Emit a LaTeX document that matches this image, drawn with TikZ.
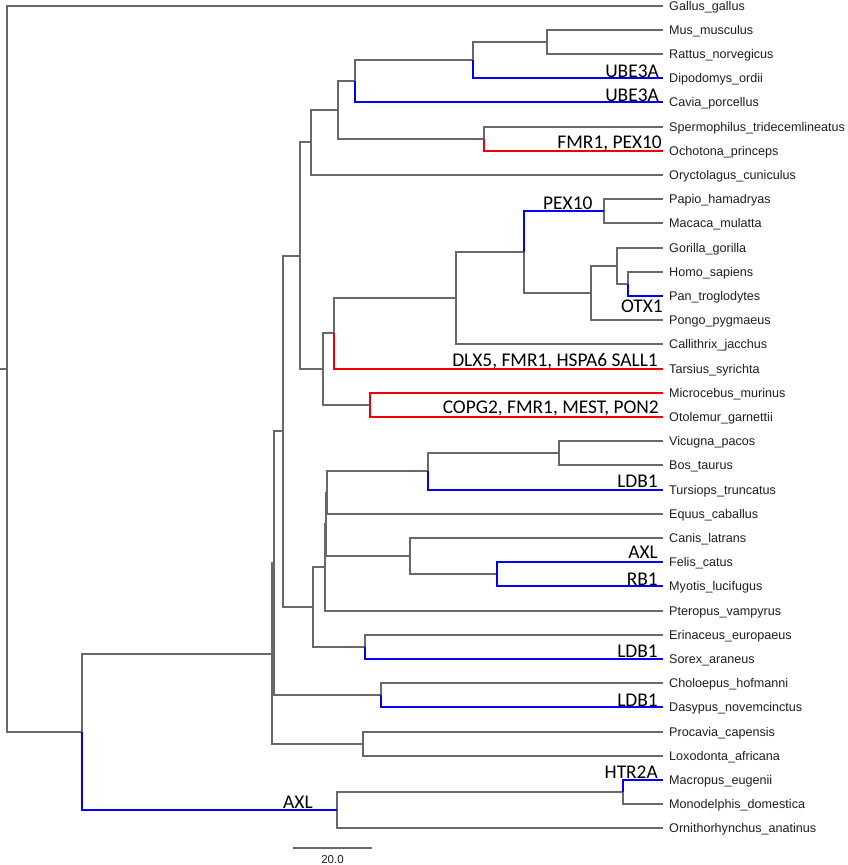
\documentclass[tikz,border=0pt]{standalone}
\usepackage{fontspec}
\setmainfont{Liberation Sans}
\newfontfamily\genefont{Carlito}
\definecolor{treegray}{RGB}{104,104,104}
\definecolor{tipblue}{RGB}{0,0,255}
\definecolor{tipred}{RGB}{240,0,0}
\definecolor{txt}{RGB}{30,30,30}
\begin{document}
\begin{tikzpicture}[x=1pt,y=-1pt,
  br/.style={draw=treegray,line width=2pt},
  bb/.style={draw=tipblue,line width=2pt},
  rb/.style={draw=tipred,line width=2pt},
  tip/.style={anchor=base west,inner sep=0pt,font=\fontsize{12.6}{14}\selectfont,text=txt},
  gene/.style={inner sep=0pt,font=\genefont\fontsize{19.4}{22}\selectfont,text=black}]
\useasboundingbox (0,0) rectangle (848,865);

% tips and labels
\foreach \nm/\lab [count=\i from 0] in {
 gal/Gallus\_gallus, mus/Mus\_musculus, rat/Rattus\_norvegicus, dip/Dipodomys\_ordii,
 cav/Cavia\_porcellus, spe/Spermophilus\_tridecemlineatus, och/Ochotona\_princeps,
 ory/Oryctolagus\_cuniculus, pap/Papio\_hamadryas, mac/Macaca\_mulatta,
 gor/Gorilla\_gorilla, hom/Homo\_sapiens, pan/Pan\_troglodytes, pon/Pongo\_pygmaeus,
 cal/Callithrix\_jacchus, tar/Tarsius\_syrichta, mic/Microcebus\_murinus,
 oto/Otolemur\_garnettii, vic/Vicugna\_pacos, bos/Bos\_taurus, tur/Tursiops\_truncatus,
 equ/Equus\_caballus, can/Canis\_latrans, fel/Felis\_catus, myo/Myotis\_lucifugus,
 pte/Pteropus\_vampyrus, eri/Erinaceus\_europaeus, sor/Sorex\_araneus,
 cho/Choloepus\_hofmanni, das/Dasypus\_novemcinctus, pro/Procavia\_capensis,
 lox/Loxodonta\_africana, mcp/Macropus\_eugenii, mon/Monodelphis\_domestica,
 orn/Ornithorhynchus\_anatinus}{
  \coordinate (\nm) at (663, 5.5+24.2*\i);
  \node[tip] (L\nm) at (669, 10+24.2*\i) {\lab};
}

% internal nodes
\coordinate (mr)   at (547,41.8);
\coordinate (mrd)  at (473,59.95);
\coordinate (rod)  at (355,81.1);
\coordinate (so)   at (484,138.6);
\coordinate (rs)   at (338,109.9);
\coordinate (gl)   at (311,142.4);
\coordinate (pm)   at (604,211.2);
\coordinate (hp)   at (628,283.8);
\coordinate (ghp)  at (617,265.7);
\coordinate (hmn)  at (591,292.9);
\coordinate (cat)  at (524,252.0);
\coordinate (ant)  at (456,298.2);
\coordinate (hap)  at (334,333.3);
\coordinate (str)  at (370,404.8);
\coordinate (pri)  at (323,369.1);
\coordinate (eua)  at (300,255.7);
\coordinate (vb)   at (559,453.2);
\coordinate (cet)  at (428,471.4);
\coordinate (la1)  at (326.5,492.5);
\coordinate (fm)   at (497,574.2);
\coordinate (car)  at (410,556.0);
\coordinate (la2)  at (325.5,524.3);
\coordinate (la3)  at (324.5,567.4);
\coordinate (eul)  at (365,646.8);
\coordinate (lau)  at (313,607.1);
\coordinate (bor)  at (283,431.4);
\coordinate (xen)  at (381,695.2);
\coordinate (eu1)  at (273.5,563.3);
\coordinate (afr)  at (363,743.6);
\coordinate (eut)  at (272,653.5);
\coordinate (mar)  at (623,792.0);
\coordinate (mm)   at (337,810.2);
\coordinate (mam)  at (82,731.8);
\coordinate (root) at (7,368.7);
\coordinate (stem) at (0,368.7);

% gray branches
\draw[br] (stem) -- (root);
\draw[br] (root) |- (gal);
\draw[br] (root) |- (mam);
\draw[br] (mam) |- (eut);
\draw[br] (eut) |- (eu1);
\draw[br] (eut) |- (afr);
\draw[br] (afr) |- (pro);
\draw[br] (afr) |- (lox);
\draw[br] (eu1) |- (bor);
\draw[br] (eu1) |- (xen);
\draw[br] (xen) |- (cho);
\draw[br] (bor) |- (eua);
\draw[br] (bor) |- (lau);
\draw[br] (eua) |- (gl);
\draw[br] (eua) |- (pri);
\draw[br] (gl) |- (rs);
\draw[br] (gl) |- (ory);
\draw[br] (rs) |- (rod);
\draw[br] (rs) |- (so);
\draw[br] (so) |- (spe);
\draw[br] (rod) |- (mrd);
\draw[br] (mrd) |- (mr);
\draw[br] (mr) |- (mus);
\draw[br] (mr) |- (rat);
\draw[br] (pri) |- (hap);
\draw[br] (pri) |- (str);
\draw[br] (hap) |- (ant);
\draw[br] (ant) |- (cat);
\draw[br] (ant) |- (cal);
\draw[br] (cat) |- (hmn);
\draw[br] (pm) |- (pap);
\draw[br] (pm) |- (mac);
\draw[br] (hmn) |- (ghp);
\draw[br] (hmn) |- (pon);
\draw[br] (ghp) |- (gor);
\draw[br] (ghp) |- (hp);
\draw[br] (hp) |- (hom);
\draw[br] (lau) |- (la3);
\draw[br] (lau) |- (eul);
\draw[br] (eul) |- (eri);
\draw[br] (la3) |- (la2);
\draw[br] (la3) |- (pte);
\draw[br] (la2) |- (la1);
\draw[br] (la2) |- (car);
\draw[br] (la1) |- (cet);
\draw[br] (la1) |- (equ);
\draw[br] (cet) |- (vb);
\draw[br] (vb) |- (vic);
\draw[br] (vb) |- (bos);
\draw[br] (car) |- (can);
\draw[br] (car) |- (fm);
\draw[br] (mm) |- (mar);
\draw[br] (mm) |- (orn);
\draw[br] (mar) |- (mon);

% coloured branches
\draw[bb] (mam) |- (mm);
\draw[bb] (mar) |- (mcp);
\draw[bb] (mrd) |- (dip);
\draw[bb] (rod) |- (cav);
\draw[rb] (so) |- (och);
\draw[bb] (cat) |- (pm);
\draw[bb] (hp) |- (pan);
\draw[rb] (hap) |- (tar);
\draw[rb] (str) |- (mic);
\draw[rb] (str) |- (oto);
\draw[bb] (cet) |- (tur);
\draw[bb] (fm) |- (fel);
\draw[bb] (fm) |- (myo);
\draw[bb] (eul) |- (sor);
\draw[bb] (xen) |- (das);

% gene labels
\node[gene,anchor=base east] (g1) at (659,77) {UBE3A};
\node[gene,anchor=base east] (g2) at (659,101) {UBE3A};
\node[gene,anchor=base east] (g3) at (662,148) {FMR1, PEX10};
\node[gene,anchor=base west] (g4) at (543,209) {PEX10};
\node[gene,anchor=base east] (g5) at (663,312) {OTX1};
\node[gene,anchor=base east] (g6) at (658,366) {DLX5, FMR1, HSPA6 SALL1};
\node[gene,anchor=base east] (g7) at (659,413) {COPG2, FMR1, MEST, PON2};
\node[gene,anchor=base east] (g8) at (658,487) {LDB1};
\node[gene,anchor=base east] (g9) at (658,558) {AXL};
\node[gene,anchor=base east] (g10) at (658,585) {RB1};
\node[gene,anchor=base east] (g11) at (658,657) {LDB1};
\node[gene,anchor=base east] (g12) at (658,706) {LDB1};
\node[gene,anchor=base east] (g13) at (658,778) {HTR2A};
\node[gene,anchor=base west] (g14) at (283,808) {AXL};

% scale bar
\coordinate (sb1) at (293,848);
\coordinate (sb2) at (372,848);
\draw[br,line width=1.6pt] (sb1) -- (sb2);
\node[anchor=base,inner sep=0pt,font=\fontsize{11.5}{12}\selectfont,text=txt] (sbl) at (332.5,863.5) {20.0};
\end{tikzpicture}
\end{document}
